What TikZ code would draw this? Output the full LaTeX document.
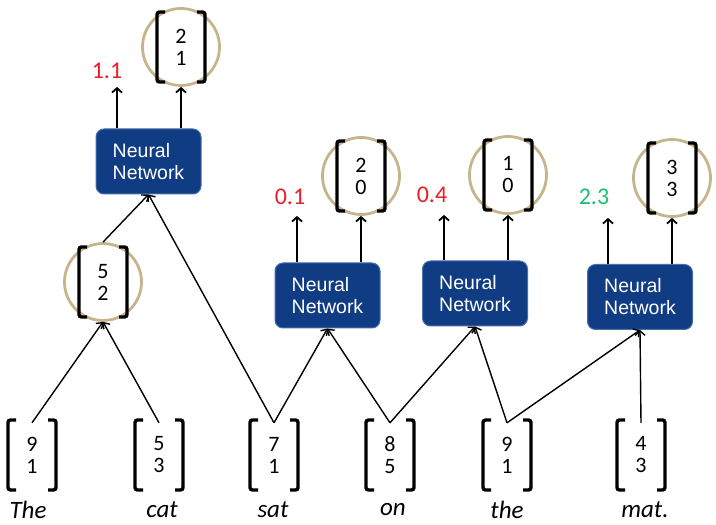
\documentclass[tikz,border=0pt]{standalone}
\usepackage{fontspec}
\setmainfont{Carlito}
\newfontfamily\nnfont{Liberation Sans}
\usetikzlibrary{
  arrows.meta,
  positioning
}
\definecolor{nnblue}{RGB}{16,60,132}
\definecolor{nnedge}{RGB}{70,110,170}
\definecolor{ringtan}{RGB}{198,180,140}
\definecolor{scorered}{RGB}{232,30,40}
\definecolor{scoregreen}{RGB}{30,190,110}

\begin{document}
\begin{tikzpicture}[x=1pt,y=1pt,
  nn/.style={draw=nnedge, line width=1pt, fill=nnblue, text=white, rounded corners=8pt, minimum width=105pt, minimum height=65pt, align=left, font=\nnfont\fontsize{19.5}{22}\selectfont},
  vec/.style={minimum width=48pt, minimum height=64pt, inner sep=0pt, align=center, font=\fontsize{22}{22}\selectfont},
  hid/.style={vec, circle, draw=ringtan, line width=2.8pt, minimum size=77pt},
  word/.style={font=\itshape\fontsize{25}{25}\selectfont},
  score/.style={font=\fontsize{24}{24}\selectfont},
  brk/.style={line width=3.4pt, rounded corners=2.5pt},
  conn/.style={line width=1.4pt, -{Straight Barb[length=4.5pt,width=10pt]}},
  outarr/.style={line width=1.8pt, -{Straight Barb[length=4.5pt,width=10pt]}}
]
\useasboundingbox (0,0) rectangle (716,525);

\node[vec] (vThe) at (32,70) {9\\1};
\node[vec] (vcat) at (159,70) {5\\3};
\node[vec] (vsat) at (274,70) {7\\1};
\node[vec] (von) at (390,70) {8\\5};
\node[vec] (vthe) at (507,70) {9\\1};
\node[vec] (vmat) at (641,70) {4\\3};

\node[word] (wThe) at (28,15) {The};
\node[word] (wcat) at (162,15) {cat};
\node[word] (wsat) at (273,15) {sat};
\node[word] (won) at (393,15) {on};
\node[word] (wthe) at (507,15) {the};
\node[word] (wmat) at (645,15) {mat.};

\node[hid] (h52) at (103,243) {5\\2};
\node[nn] (nn1) at (148.5,363.5) {Neural\\Network};
\node[nn] (nn2) at (327.5,229.5) {Neural\\Network};
\node[nn] (nn3) at (475,231.5) {Neural\\Network};
\node[nn] (nn4) at (640,228) {Neural\\Network};

\node[hid] (h21) at (181,478) {2\\1};
\node[hid] (h20) at (361,349) {2\\0};
\node[hid] (h10) at (508,350) {1\\0};
\node[hid] (h33) at (672,347) {3\\3};

\node[score, text=scorered] (s11) at (107,454) {1.1};
\node[score, text=scorered] (s01) at (290,328) {0.1};
\node[score, text=scorered] (s04) at (432,330) {0.4};
\node[score, text=scoregreen] (s23) at (594,328) {2.3};

\foreach \v in {vThe,vcat,vsat,von,vthe,vmat,h52,h21,h20,h10,h33}{
  \draw[brk] ([shift={(-16,35)}]\v.center) -- ++(-8,0) -- ++(0,-70) -- ++(8,0);
  \draw[brk] ([shift={(16,35)}]\v.center) -- ++(8,0) -- ++(0,-70) -- ++(-8,0);
}

\foreach \n/\h/\t in {nn1/h21/t11, nn2/h20/t01, nn3/h10/t04, nn4/h33/t23}{
  \coordinate (\t) at ([xshift=-64pt]\h.south);
  \draw[outarr] (\n.north -| \t) -- (\t);
  \draw[outarr] (\n.north -| \h.south) -- (\h.south);
}

\draw[conn] (vThe.north) -- (h52.south);
\draw[conn] (vcat.north) -- (h52.south);
\draw[conn] (h52.north) -- (nn1.south);
\draw[conn] (vsat.north) -- (nn1.south);
\draw[conn] (vsat.north) -- (nn2.south);
\draw[conn] (von.north) -- (nn2.south);
\draw[conn] (von.north) -- (nn3.south);
\draw[conn] (vthe.north) -- (nn3.south);
\draw[conn] (vthe.north) -- (nn4.south);
\draw[conn] (vmat.north) -- (nn4.south);
\end{tikzpicture}
\end{document}
